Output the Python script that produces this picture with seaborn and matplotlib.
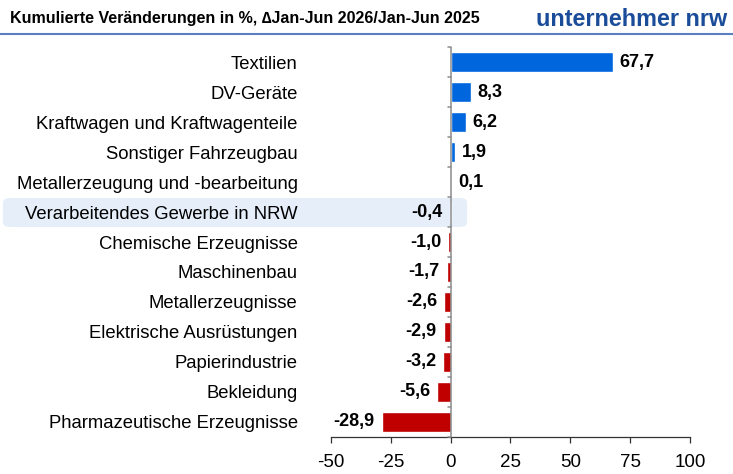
import matplotlib
matplotlib.use('Agg')
import matplotlib.pyplot as plt
from matplotlib.patches import FancyBboxPatch
from matplotlib.lines import Line2D
import pandas as pd
import seaborn as sns

branchen = ['Textilien', 'DV-Geräte', 'Kraftwagen und Kraftwagenteile',
            'Sonstiger Fahrzeugbau', 'Metallerzeugung und -bearbeitung',
            'Verarbeitendes Gewerbe in NRW', 'Chemische Erzeugnisse',
            'Maschinenbau', 'Metallerzeugnisse', 'Elektrische Ausrüstungen',
            'Papierindustrie', 'Bekleidung', 'Pharmazeutische Erzeugnisse']
werte = [67.7, 8.3, 6.2, 1.9, 0.1, -0.4, -1.0, -1.7, -2.6, -2.9, -3.2, -5.6, -28.9]
xticks = [-50, -25, 0, 25, 50, 75, 100]
titel = 'Kumulierte Veränderungen in %, \u2206Jan-Jun 2026/Jan-Jun 2025'
logo = 'unternehmer nrw'

df = pd.DataFrame({'branche': branchen, 'wert': werte})
df['vz'] = ['pos' if w >= 0 else 'neg' for w in werte]

sns.set_theme(style='white')
plt.rcParams['font.family'] = ['Liberation Sans', 'DejaVu Sans']
plt.rcParams['axes.unicode_minus'] = False

fig = plt.figure(figsize=(7.33, 4.74), dpi=100)
ax = fig.add_axes([0.4516, 0.0781, 0.4897, 0.8227])
ax.patch.set_alpha(0)

sns.barplot(data=df, x='wert', y='branche', hue='vz', order=branchen,
            palette={'pos': '#0066dd', 'neg': '#c00000'}, dodge=False,
            saturation=1, legend=False, width=0.66, orient='h', ax=ax)

for c in ax.containers:
    labs = [('%.1f' % b.get_width()).replace('.', ',') for b in c]
    ax.bar_label(c, labels=labs, padding=5, fontsize=13, fontweight='bold',
                 color='black')

ax.set_xlim(-50, 100)
ax.set_ylim(len(branchen) - 0.5, -0.5)
ax.set_xticks(xticks)
ax.set_xlabel('')
ax.set_ylabel('')
for s in ['top', 'right', 'left']:
    ax.spines[s].set_visible(False)
ax.spines['bottom'].set_color('#333333')
ax.spines['bottom'].set_linewidth(0.9)
ax.tick_params(axis='x', length=4, width=0.9, color='#333333', labelsize=13.5,
               labelcolor='black', pad=8, bottom=True)
ax.tick_params(axis='y', length=0, labelsize=13.3, labelcolor='black', pad=24)

# Nulllinie mit kleinen Trennstrichen
ax.axvline(0, color='#8c8c8c', lw=1.1, zorder=3)
for i in range(len(branchen) + 1):
    ax.plot([-1.3, 0], [i - 0.5, i - 0.5], color='#8c8c8c', lw=1.1,
            zorder=3, clip_on=False)

# Hervorhebung NRW gesamt
band = FancyBboxPatch((0.004, 1 - 227 / 474), 470 / 733 - 0.008, 29 / 474,
                      boxstyle='round,pad=0,rounding_size=0.01',
                      transform=fig.transFigure, facecolor='#e5eef9',
                      edgecolor='none', zorder=-1)
fig.patches.append(band)

# Kopfzeile
fig.text(0.013, 1 - 19 / 474, titel, fontsize=11.5, fontweight='bold',
         color='black', va='center')
fig.text(0.992, 1 - 19 / 474, logo, fontsize=16.8, fontweight='bold',
         color='#1a4c99', ha='right', va='center')
fig.add_artist(Line2D([0, 1], [1 - 34 / 474, 1 - 34 / 474],
                      transform=fig.transFigure, color='#5b80c2', lw=1.5))

fig.savefig('out.png', dpi=100)
